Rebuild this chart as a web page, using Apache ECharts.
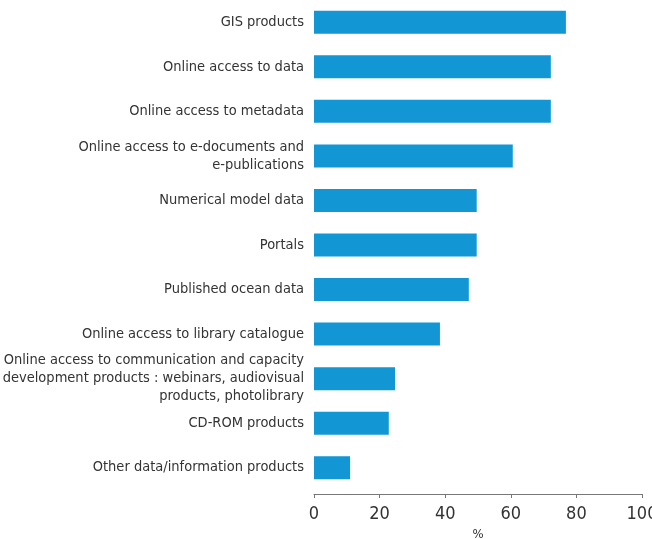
<!DOCTYPE html>
<html lang="en">
  <head>
    <meta charset="UTF-8" />
    <title>Products</title>
    <style>
      html, body { margin: 0; padding: 0; background: #fff; }
      #main { width: 652px; height: 539px; }
    </style>
  </head>
  <body>
    <div id="main"></div>
    <script src="https://cdn.jsdelivr.net/npm/echarts@6/dist/echarts.min.js"></script>
    <script>
      // categories listed bottom to top (category axis starts at the bottom)
      const categories = [
        "Other data/information products",
        "CD-ROM products",
        "Online access to communication and capacity\ndevelopment products : webinars, audiovisual\nproducts, photolibrary",
        "Online access to library catalogue",
        "Published ocean data",
        "Portals",
        "Numerical model data",
        "Online access to e-documents and\ne-publications",
        "Online access to metadata",
        "Online access to data",
        "GIS products"
      ];
      const values = [11, 22.8, 24.7, 38.4, 47.2, 49.6, 49.6, 60.6, 72.2, 72.2, 76.8];
      const xTicks = [0, 20, 40, 60, 80, 100];

      const font = '"Liberation Sans Narrow", "DejaVu Sans Condensed", sans-serif';
      const myChart = echarts.init(document.getElementById("main"));
      const option = {
        animation: false,
        grid: {
          left: 314, right: 10, top: 0, height: 490,
          containLabel: false,
          outerBoundsMode: "none"
        },
        xAxis: {
          type: "value",
          min: xTicks[0],
          max: xTicks[xTicks.length - 1],
          interval: xTicks[1] - xTicks[0],
          offset: 4,
          name: "%",
          nameLocation: "middle",
          nameGap: 34,
          nameTextStyle: { fontFamily: font, fontSize: 13, color: "#333" },
          axisLine: { show: true, lineStyle: { color: "#777", width: 1 } },
          axisTick: { show: true, length: 4, inside: false, lineStyle: { color: "#777" } },
          axisLabel: { fontFamily: font, fontSize: 18, color: "#333", margin: 11 },
          splitLine: { show: false }
        },
        yAxis: {
          type: "category",
          data: categories,
          axisLine: { show: false },
          axisTick: { show: false },
          axisLabel: {
            fontFamily: font,
            fontSize: 14.5,
            color: "#333",
            margin: 10,
            lineHeight: 18,
            align: "right"
          }
        },
        series: [
          {
            type: "bar",
            data: values,
            barWidth: 23,
            itemStyle: { color: "#1396d4" }
          }
        ]
      };
      myChart.setOption(option);
    </script>
  </body>
</html>
